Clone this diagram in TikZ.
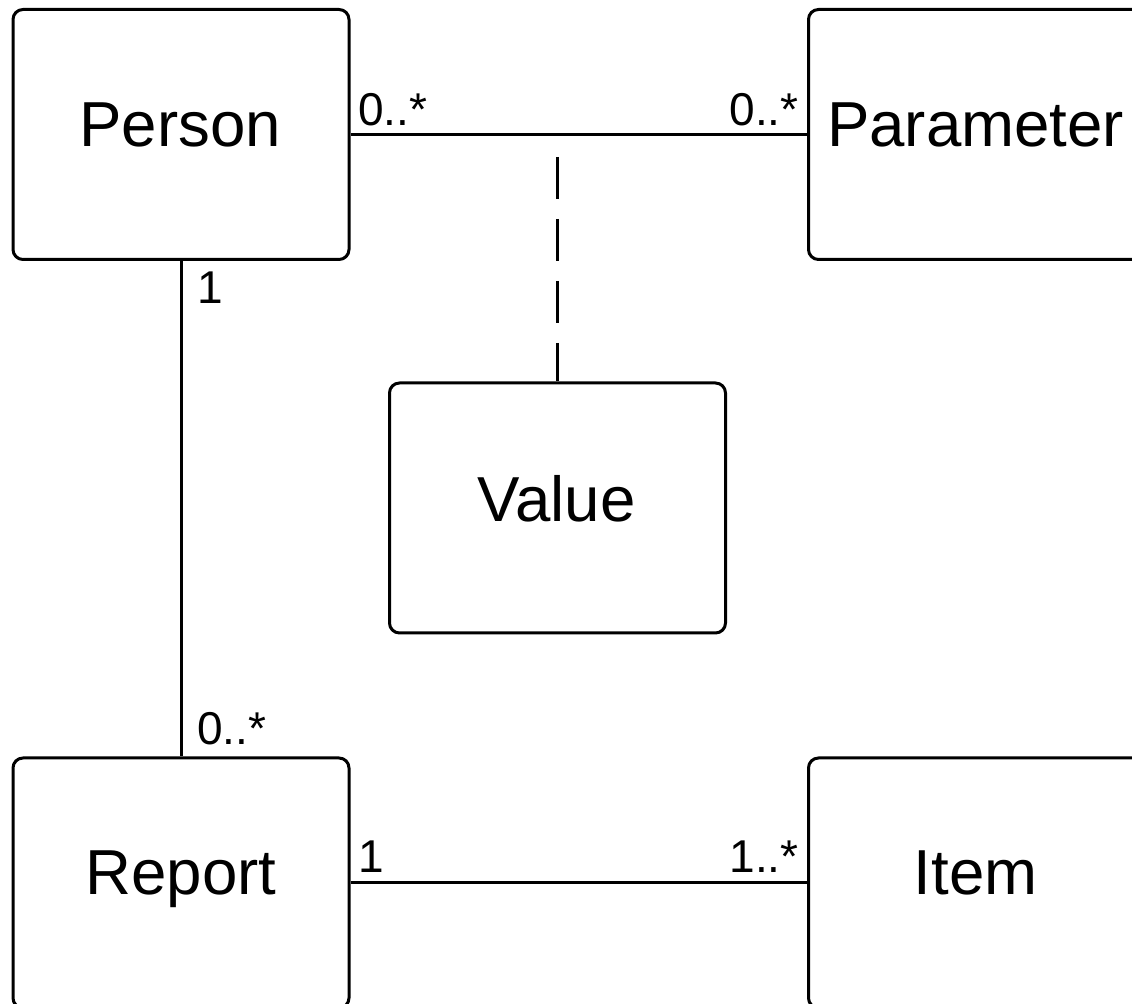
\documentclass[tikz,border=0pt]{standalone}
\usepackage{fontspec}
\setmainfont{Liberation Sans}
\begin{document}
\begin{tikzpicture}[x=0.5pt,y=-0.5pt,
  box/.style={draw, line width=1.5pt, rounded corners=5pt, minimum width=168pt, minimum height=125pt, inner sep=0pt, fill=white},
  title/.style={font=\fontsize{31.8}{31.8}\selectfont, anchor=base, inner sep=0pt},
  mult/.style={font=\fontsize{23}{23}\selectfont, inner sep=0pt},
  conn/.style={line width=1.5pt},
  assocline/.style={line width=1.5pt, dash pattern=on 21pt off 10pt}]
\useasboundingbox (0,0) rectangle (1132,1004);
\clip (0,0) rectangle (1132,1004);
% boxes
\node[box] (person) at (181,134.5) {};
\node[box] (parameter) at (976.5,134.5) {};
\node[box] (value) at (557.5,508) {};
\node[box] (report) at (181,883) {};
\node[box] (item) at (976.5,883) {};
% titles
\node[title] (personT) at (180,147) {Person};
\node[title] (parameterT) at (975.5,147) {Parameter};
\node[title] (valueT) at (556.5,522) {Value};
\node[title] (reportT) at (181,895) {Report};
\node[title] (itemT) at (975.5,895) {Item};
% connectors
\draw[conn] (person.east) -- (parameter.west);
\draw[conn] (person.south) -- (report.north);
\draw[conn] (report.east) -- (item.west);
\coordinate (assoc) at (557.5,157);
\draw[assocline] (assoc) -- (value.north);
% multiplicities
\node[mult, anchor=base west] (m1) at (358,126) {0..*};
\node[mult, anchor=base east] (m2) at (799,126) {0..*};
\node[mult, anchor=base west] (m3) at (197,304) {1};
\node[mult, anchor=base west] (m4) at (197,745) {0..*};
\node[mult, anchor=base west] (m5) at (358,873) {1};
\node[mult, anchor=base east] (m6) at (799,873) {1..*};
\end{tikzpicture}
\end{document}
